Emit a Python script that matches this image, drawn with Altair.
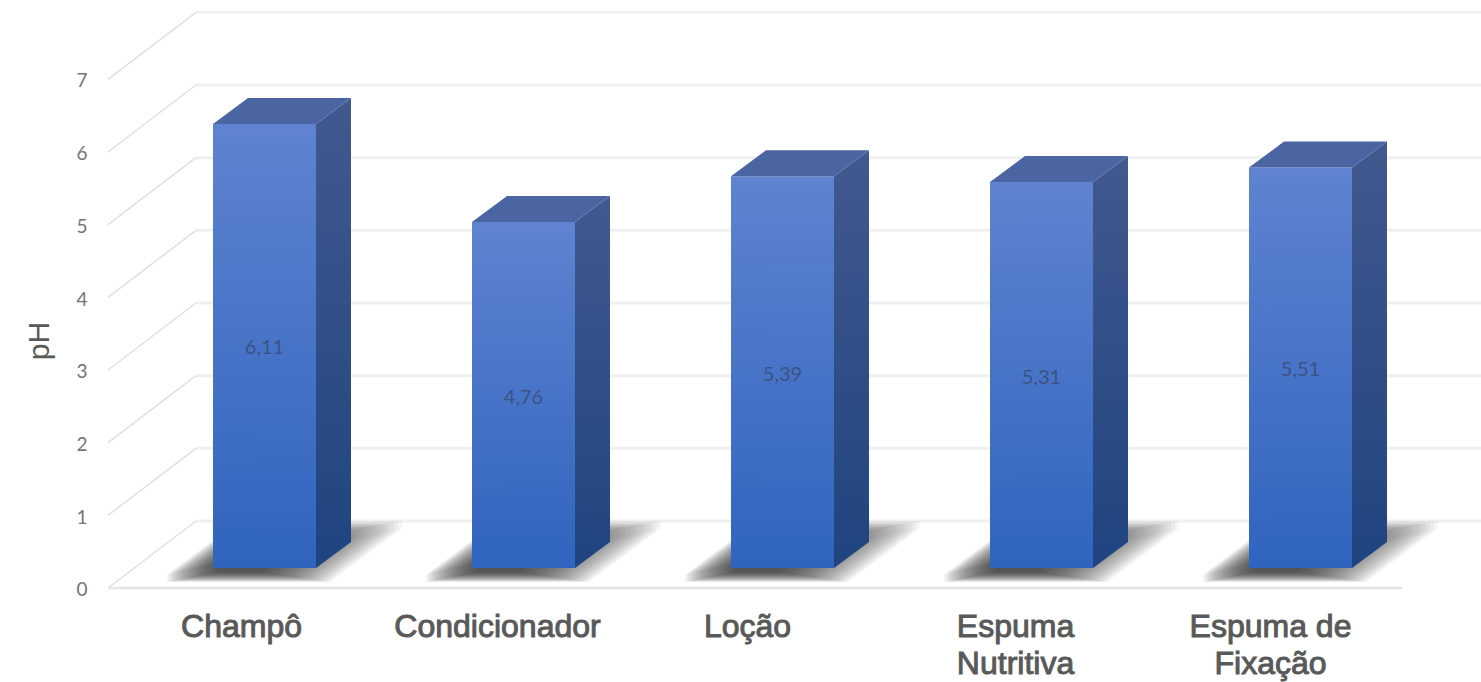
import altair as alt
import pandas as pd

# Chart values
products = ["Champô", "Condicionador", "Loção", "Espuma Nutritiva", "Espuma de Fixação"]
label_lines = [["Champô"], ["Condicionador"], ["Loção"], ["Espuma", "Nutritiva"], ["Espuma de", "Fixação"]]
ph_values = [6.11, 4.76, 5.39, 5.31, 5.51]
ph_labels = ["6,11", "4,76", "5,39", "5,31", "5,51"]
ph_ticks = [0, 1, 2, 3, 4, 5, 6, 7]

# Canvas and pseudo-3D projection, as scale units
W, H = 1481, 682
STEP_PX = 259.0
PH_PX = 72.67
ORIGIN_X = 264.5
ORIGIN_Y = 568.0
px_x = lambda d: d / STEP_PX
px_y = lambda d: d / PH_PX

BAR_W = px_x(103)
BAR_DX, BAR_DY = px_x(35), px_y(26)
WALL_X0, WALL_X1, FLOOR_X1 = px_x(196 - ORIGIN_X), px_x(W - ORIGIN_X), px_x(1402 - ORIGIN_X)
EDGE_X0 = px_x(108 - ORIGIN_X)
WALL_UP = px_y(47)
FLOOR_DOWN = px_y(20)
TICK_X = px_x(82 - ORIGIN_X)
LABEL_SHIFT = [-23, -26, -35, -26, -30]

x_scale = alt.Scale(domain=[-ORIGIN_X / STEP_PX, (W - ORIGIN_X) / STEP_PX], range=[0, W], nice=False, zero=False)
y_scale = alt.Scale(domain=[(ORIGIN_Y - H) / PH_PX, ORIGIN_Y / PH_PX], range=[H, 0], nice=False, zero=False)
X = lambda f: alt.X(f, type="quantitative", scale=x_scale, axis=None)
Y = lambda f: alt.Y(f, type="quantitative", scale=y_scale, axis=None)
X2 = lambda f: alt.X2(f)
Y2 = lambda f: alt.Y2(f)

# Wall gridlines, side-wall edges and the floor front line
grid = pd.DataFrame({"v": ph_ticks})
grid["wall"] = grid.v + WALL_UP
grid["front"] = grid.v + WALL_UP - px_y(67)
grid["x0"], grid["x1"], grid["e0"] = WALL_X0, WALL_X1, EDGE_X0

wall_lines = alt.Chart(grid).mark_rule(color="#f0f0f0", strokeWidth=3).encode(
    x=X("x0"), x2=X2("x1"), y=Y("wall"))
side_lines = alt.Chart(grid).mark_rule(color="#e0e0e0", strokeWidth=1.5).encode(
    x=X("e0"), x2=X2("x0"), y=Y("front"), y2=Y2("wall"))
floor_line = alt.Chart(pd.DataFrame({"x0": [EDGE_X0], "x1": [FLOOR_X1], "y": [-FLOOR_DOWN]})).mark_rule(
    color="#e4e4e4", strokeWidth=2.4).encode(x=X("x0"), x2=X2("x1"), y=Y("y"))

# Soft floor shadows: many stacked translucent parallelograms with blunted corners
SLANT = 1.34
TRIM_PX = 10
rows = []
for i in range(len(products)):
    for level in range(30):
        left = i - BAR_W / 2 + px_x(-56 + 1.75 * level)
        right = i + BAR_W / 2 + px_x(14 - 2.4 * level)
        low = -px_y(14 - 0.35 * level)
        high = px_y(47 - 0.75 * level)
        shift = (high - low) * PH_PX * SLANT / STEP_PX
        key = f"{i}-{level}"
        trim_x, trim_y = px_x(TRIM_PX), px_y(TRIM_PX / SLANT)
        rows += [
            dict(k=key, x=left + trim_x, y=low + trim_y, y2=low),
            dict(k=key, x=left + shift, y=high, y2=low),
            dict(k=key, x=right, y=high, y2=low),
            dict(k=key, x=right + shift - trim_x, y=high, y2=high - trim_y),
        ]
shadows = alt.Chart(pd.DataFrame(rows)).mark_area(color="#2b2b2b", opacity=0.048, interpolate="linear").encode(
    x=X("x"), y=Y("y"), y2=Y2("y2"), detail="k:N")

# Bars: front, side and top faces
bars = pd.DataFrame({"i": range(len(products)), "product": products, "ph": ph_values, "label": ph_labels})
bars["l"] = bars.i - BAR_W / 2
bars["r"] = bars.i + BAR_W / 2
bars["zero"] = 0.0
bars["mid"] = bars.ph / 2 - px_y(2.5)


def gradient(top, bottom):
    return alt.Gradient(gradient="linear", x1=0, x2=0, y1=0, y2=1,
                        stops=[alt.GradientStop(color=top, offset=0), alt.GradientStop(color=bottom, offset=1)])


front = alt.Chart(bars).mark_rect(color=gradient("#5f83d0", "#3064bf")).encode(
    x=X("l"), x2=X2("r"), y=Y("ph"), y2=Y2("zero"))

side_rows, top_rows = [], []
for b in bars.itertuples():
    side_rows += [dict(k=b.i, x=b.r, y=b.ph, y2=0.0),
                  dict(k=b.i, x=b.r + BAR_DX, y=b.ph + BAR_DY, y2=BAR_DY)]
    top_rows += [dict(k=b.i, x=b.l, y=b.ph, y2=b.ph),
                 dict(k=b.i, x=b.l + BAR_DX, y=b.ph + BAR_DY, y2=b.ph),
                 dict(k=b.i, x=b.r, y=b.ph + BAR_DY, y2=b.ph),
                 dict(k=b.i, x=b.r + BAR_DX, y=b.ph + BAR_DY, y2=b.ph + BAR_DY)]
side = alt.Chart(pd.DataFrame(side_rows)).mark_area(color=gradient("#42598f", "#1f4480"), interpolate="linear").encode(
    x=X("x"), y=Y("y"), y2=Y2("y2"), detail="k:N")
top = alt.Chart(pd.DataFrame(top_rows)).mark_area(color="#4b65a3", interpolate="linear").encode(
    x=X("x"), y=Y("y"), y2=Y2("y2"), detail="k:N")

value_text = alt.Chart(bars).mark_text(font="Lato", fontSize=20, color="#3c5285", baseline="middle").encode(
    x=X("i"), y=Y("mid"), text="label:N")

# Value axis numbers sit on the front edge of the floor plane
ticks = pd.DataFrame({"v": ph_ticks, "t": [str(t) for t in ph_ticks], "x": TICK_X})
ticks["y"] = ticks.v - FLOOR_DOWN - 0.03
tick_text = alt.Chart(ticks).mark_text(font="Lato", fontSize=19, color="#757575", baseline="middle").encode(
    x=X("x"), y=Y("y"), text="t:N")

# Category labels, up to two lines each
cat_rows = []
for i, lines in enumerate(label_lines):
    for n, line in enumerate(lines):
        cat_rows.append(dict(x=i + px_x(LABEL_SHIFT[i]), y=-px_y(69 + 37 * n), t=line))
cat_text = alt.Chart(pd.DataFrame(cat_rows)).mark_text(
    font="Liberation Sans", fontSize=32, color="#595959", stroke="#595959", strokeWidth=1.0,
    baseline="alphabetic").encode(x=X("x"), y=Y("y"), text="t:N")

title = alt.Chart(pd.DataFrame({"x": [px_x(40 - ORIGIN_X)], "y": [px_y(ORIGIN_Y - 341)], "t": ["pH"]})).mark_text(
    font="Liberation Sans", fontSize=30, color="#595959", angle=270, baseline="middle").encode(
    x=X("x"), y=Y("y"), text="t:N")

chart = alt.layer(
    wall_lines, side_lines, floor_line, shadows, front, side, top,
    value_text, tick_text, cat_text, title,
).properties(
    width=W, height=H, padding=0, background="white",
    autosize=alt.AutoSizeParams(type="none"),
).configure_view(stroke=None)

chart.save("out.html", embed_options={"renderer": "svg", "actions": False})
